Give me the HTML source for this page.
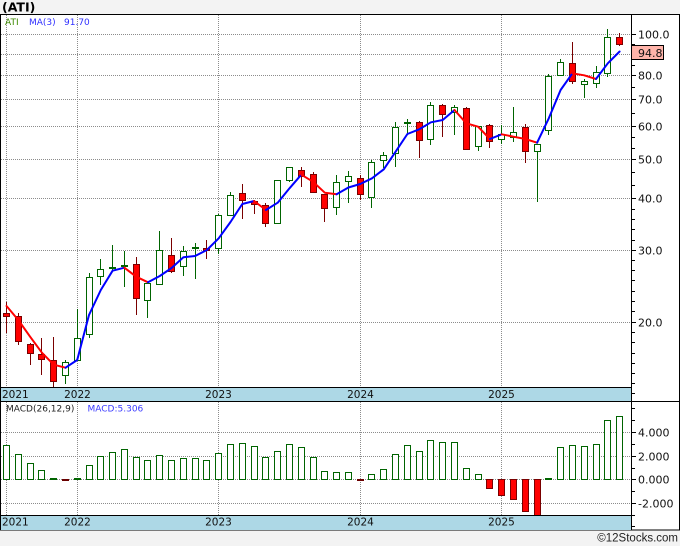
<!DOCTYPE html>
<html><head><meta charset="utf-8"><style>
html,body{margin:0;padding:0;background:#f3f3f3;}
svg{display:block;}
</style></head><body>
<svg width="680" height="546" viewBox="0 0 680 546" xmlns="http://www.w3.org/2000/svg">
<rect width="680" height="546" fill="#f3f3f3"/>
<text x="2" y="11.5" font-family="DejaVu Sans, sans-serif" font-weight="bold" font-size="12.5" fill="#000">(ATI)</text>
<rect x="0.5" y="14.5" width="679" height="515.5" fill="#fff" stroke="#000"/>
<rect x="1" y="387" width="630.5" height="14" fill="#add8e6"/>
<rect x="1" y="515" width="630.5" height="15" fill="#add8e6"/>
<path d="M0 387.5H631.5M0 401.5H680M631.5 14V530" stroke="#000" shape-rendering="crispEdges"/>
<path d="M1 34.5H631M1 54.5H631M1 75.5H631M1 99.5H631M1 126.5H631M1 159.5H631M1 198.5H631M1 250.5H631M1 322.5H631M1 432.5H631M1 456.5H631M1 479.5H631M1 503.5H631M6.5 15V387M77.5 15V387M218.5 15V387M360.5 15V387M501.5 15V387M6.5 402V515M77.5 402V515M218.5 402V515M360.5 402V515M501.5 402V515" stroke="#8c8c8c" stroke-dasharray="1,1" fill="none" shape-rendering="crispEdges"/>
<path d="M631 34.5h5M631 44.5h4M631 54.5h4M631 65.5h4M631 75.5h5M631 87.5h4M631 99.5h5M631 113.5h4M631 126.5h5M631 137.5h4M631 148.5h4M631 159.5h5M631 172.5h4M631 185.5h4M631 198.5h5M631 209.5h4M631 219.5h4M631 229.5h4M631 240.5h4M631 250.5h5M631 260.5h4M631 270.5h4M631 280.5h4M631 291.5h4M631 301.5h4M631 311.5h4M631 322.5h5M631 332.5h4M631 342.5h4M631 353.5h4M631 363.5h4M631 373.5h4M631 383.5h4M631 393.5h4M631 408.5h4M631 420.5h4M631 432.5h5M631 444.5h4M631 456.5h5M631 468.5h4M631 479.5h5M631 491.5h4M631 503.5h5M631 515.5h4M631 526.5h4" stroke="#000" shape-rendering="crispEdges"/>
<g font-family="DejaVu Sans, sans-serif" font-size="11" fill="#111">
<text x="638" y="38.5">100.0</text>
<text x="638" y="79.5">80.0</text>
<text x="638" y="103.5">70.0</text>
<text x="638" y="130.5">60.0</text>
<text x="638" y="163.5">50.0</text>
<text x="638" y="202.5">40.0</text>
<text x="638" y="254.5">30.0</text>
<text x="638" y="326.5">20.0</text>
<text x="638" y="436.5">4.000</text>
<text x="638" y="460.5">2.000</text>
<text x="638" y="483.5">0.000</text>
<text x="638" y="507.5">-2.000</text>
</g>
<rect x="631.5" y="45.5" width="32" height="14" fill="#ffb4aa" stroke="#000" shape-rendering="crispEdges"/>
<text x="638" y="57" font-family="DejaVu Sans, sans-serif" font-size="11" fill="#111">94.8</text>
<g font-family="DejaVu Sans, sans-serif" font-size="9">
<text x="5" y="25" fill="#3d8a00">ATI</text>
<text x="29" y="25" fill="#3030ff">MA(3)</text>
<text x="64" y="25" fill="#3030ff">91.70</text>
<text x="6" y="411.5" fill="#222">MACD(26,12,9)</text>
<text x="87.5" y="411.5" fill="#3a3aff">MACD:5.306</text>
</g>
<g font-family="DejaVu Sans, sans-serif" font-size="10.5" fill="#111">
<text x="2" y="398">2021</text>
<text x="77.5" y="398" text-anchor="middle">2022</text>
<text x="218.5" y="398" text-anchor="middle">2023</text>
<text x="360.5" y="398" text-anchor="middle">2024</text>
<text x="501.5" y="398" text-anchor="middle">2025</text>
<text x="2" y="525.5">2021</text>
<text x="77.5" y="525.5" text-anchor="middle">2022</text>
<text x="218.5" y="525.5" text-anchor="middle">2023</text>
<text x="360.5" y="525.5" text-anchor="middle">2024</text>
<text x="501.5" y="525.5" text-anchor="middle">2025</text>
</g>
<text x="678" y="541.5" text-anchor="end" font-family="Liberation Sans, sans-serif" font-size="11.5" fill="#222">©12Stocks.com</text>
<path d="M65.5 360V384M77.5 309V361M89.5 273V338M100.5 259V285M112.5 245V270M124.5 251V287M147.5 283V318M159.5 231V285M183.5 246V276M195.5 243V279M218.5 214V254M230.5 192V216M277.5 180V224M289.5 167V182M336.5 175V215M348.5 171V203M371.5 160V208M383.5 152V168M395.5 122V167M407.5 119V135M430.5 102V145M454.5 105V135M478.5 126V151M501.5 125V144M513.5 107V142M537.5 144V202M548.5 74V135M560.5 59V76M584.5 79V98M596.5 66V88M607.5 29V77" stroke="#006400" shape-rendering="crispEdges"/>
<path d="M62.5 362.5h6v13h-6zM74.5 338.5h6v22h-6zM86.5 277.5h6v57h-6zM97.5 269.5h6v7h-6zM109.5 267.5h6v1h-6zM121.5 265.5h6v1h-6zM144.5 283.5h6v17h-6zM156.5 250.5h6v34h-6zM180.5 251.5h6v15h-6zM192.5 247.5h6v1h-6zM215.5 215.5h6v33h-6zM227.5 195.5h6v20h-6zM274.5 180.5h6v43h-6zM286.5 167.5h6v13h-6zM333.5 182.5h6v25h-6zM345.5 176.5h6v5h-6zM368.5 162.5h6v35h-6zM380.5 155.5h6v5h-6zM392.5 127.5h6v26h-6zM404.5 122.5h6v1h-6zM427.5 105.5h6v34h-6zM451.5 107.5h6v5h-6zM475.5 126.5h6v20h-6zM498.5 134.5h6v5h-6zM510.5 132.5h6v5h-6zM534.5 144.5h6v7h-6zM545.5 76.5h6v54h-6zM557.5 62.5h6v13h-6zM581.5 81.5h6v3h-6zM593.5 72.5h6v11h-6zM604.5 37.5h6v36h-6z" fill="#fff" stroke="#006400" shape-rendering="crispEdges"/>
<path d="M6.5 302V333M18.5 313V345M30.5 343V365M41.5 338V375M53.5 337V387M136.5 257V315M171.5 238V273M206.5 240V259M242.5 184V219M254.5 200V214M265.5 203V227M301.5 167V187M313.5 172V193M324.5 194V222M360.5 175V200M419.5 121V158M442.5 104V137M466.5 107V150M489.5 124V148M525.5 124V163M572.5 42V84M619.5 33V46" stroke="#7a0000" shape-rendering="crispEdges"/>
<path d="M3.5 313.5h6v3h-6zM15.5 316.5h6v25h-6zM27.5 344.5h6v9h-6zM38.5 354.5h6v5h-6zM50.5 360.5h6v21h-6zM133.5 264.5h6v34h-6zM168.5 255.5h6v16h-6zM203.5 248.5h6v2h-6zM239.5 193.5h6v7h-6zM251.5 201.5h6v3h-6zM262.5 205.5h6v18h-6zM298.5 170.5h6v6h-6zM310.5 174.5h6v18h-6zM321.5 194.5h6v14h-6zM357.5 178.5h6v16h-6zM416.5 122.5h6v18h-6zM439.5 105.5h6v9h-6zM463.5 108.5h6v41h-6zM486.5 125.5h6v16h-6zM522.5 127.5h6v24h-6zM569.5 63.5h6v18h-6zM616.5 37.5h6v7h-6z" fill="#f00" stroke="#7a0000" shape-rendering="crispEdges"/>
<g fill="none" stroke-width="2" stroke-linejoin="round" stroke-linecap="round">
<polyline stroke="#f00" points="6.5,306 18.3,320 30.1,336.7 41.9,352.7 53.7,364.7 65.5,367.7"/>
<polyline stroke="#00f" points="65.5,367.7 77.2,360 89,315 100.8,290 112.6,270.7 124.4,267.7"/>
<polyline stroke="#f00" points="124.4,267.7 136.2,276.7 148,282.3"/>
<polyline stroke="#00f" points="148,282.3 159.8,276 171.6,268 183.4,257.3 195.1,256 206.9,250 218.7,238.3 230.5,222 242.3,204 254.1,201"/>
<polyline stroke="#f00" points="254.1,201 265.9,210"/>
<polyline stroke="#00f" points="265.9,210 277.7,202.7 289.5,188.3 301.3,174.7"/>
<polyline stroke="#f00" points="301.3,174.7 313,181.7 324.8,192.7 336.6,194.3"/>
<polyline stroke="#00f" points="336.6,194.3 348.4,187.5 360.2,184 372,178.3 383.8,169.3 395.6,151.7 407.4,134 419.2,129.3 430.9,122.3 442.7,120 454.5,110"/>
<polyline stroke="#f00" points="454.5,110 466.3,123.3 478.1,126.7 489.9,139"/>
<polyline stroke="#00f" points="489.9,139 501.7,134.3"/>
<polyline stroke="#f00" points="501.7,134.3 513.5,136.7 525.3,139 537.1,142.7"/>
<polyline stroke="#00f" points="537.1,142.7 548.8,118.3 560.6,90 572.4,73.3"/>
<polyline stroke="#f00" points="572.4,73.3 584.2,75.3 596,79"/>
<polyline stroke="#00f" points="596,79 607.8,63.3 619.6,51.5"/>
</g>
<path d="M3.5 445.5h6v34h-6zM15.5 454.5h6v25h-6zM27.5 463.5h6v16h-6zM38.5 470.5h6v9h-6zM86.5 465.5h6v14h-6zM97.5 456.5h6v23h-6zM109.5 452.5h6v27h-6zM121.5 449.5h6v30h-6zM133.5 457.5h6v22h-6zM144.5 460.5h6v19h-6zM156.5 455.5h6v24h-6zM168.5 460.5h6v19h-6zM180.5 458.5h6v21h-6zM192.5 458.5h6v21h-6zM203.5 460.5h6v19h-6zM215.5 453.5h6v26h-6zM227.5 444.5h6v35h-6zM239.5 443.5h6v36h-6zM251.5 446.5h6v33h-6zM262.5 457.5h6v22h-6zM274.5 451.5h6v28h-6zM286.5 444.5h6v35h-6zM298.5 447.5h6v32h-6zM310.5 457.5h6v22h-6zM321.5 471.5h6v8h-6zM333.5 472.5h6v7h-6zM345.5 472.5h6v7h-6zM368.5 474.5h6v5h-6zM380.5 469.5h6v10h-6zM392.5 454.5h6v25h-6zM404.5 445.5h6v34h-6zM416.5 451.5h6v28h-6zM427.5 440.5h6v39h-6zM439.5 442.5h6v37h-6zM451.5 442.5h6v37h-6zM463.5 468.5h6v11h-6zM475.5 474.5h6v5h-6zM557.5 447.5h6v32h-6zM569.5 445.5h6v34h-6zM581.5 446.5h6v33h-6zM593.5 444.5h6v35h-6zM604.5 420.5h6v59h-6zM616.5 416.5h6v63h-6z" fill="#fff" stroke="#006400" shape-rendering="crispEdges"/>
<path d="M50 478h7v2h-7zM74 478h7v2h-7zM545 478h7v2h-7z" fill="#006400" shape-rendering="crispEdges"/>
<path d="M62 479h7v2h-7zM357 479h7v2h-7z" fill="#6a0000" shape-rendering="crispEdges"/>
<path d="M486.5 479.5h6v9h-6zM498.5 479.5h6v16h-6zM510.5 479.5h6v20h-6zM522.5 479.5h6v32h-6zM534.5 479.5h6v36h-6z" fill="#f00" stroke="#7a0000" shape-rendering="crispEdges"/>
<path d="M0 515.5H631.5" stroke="#000" shape-rendering="crispEdges"/>
</svg>
</body></html>
